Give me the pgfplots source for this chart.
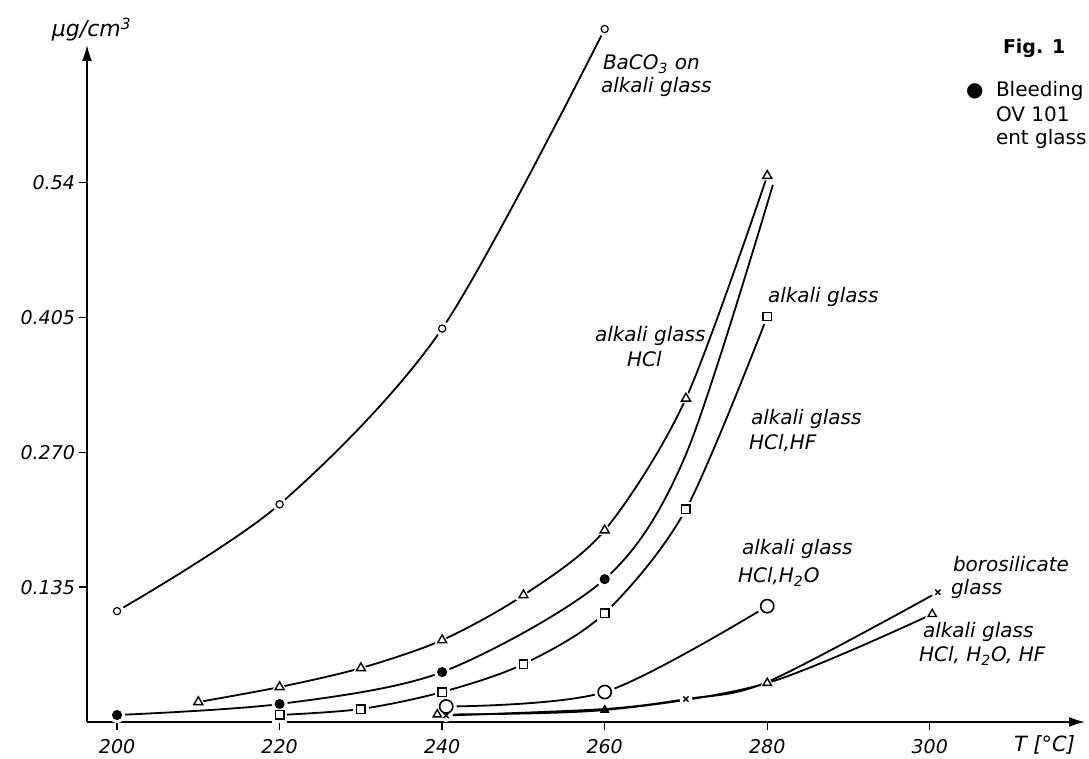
\documentclass[border=0pt]{standalone}
\usepackage{pgfplots}
\usepackage{pgfplotstable}
\pgfplotsset{compat=1.18}
\usetikzlibrary{arrows.meta}
\usepackage{fontspec}
\setmainfont{DejaVu Sans}

% BaCO3 on alkali glass
\pgfplotstableread{
x y
200 0.111
220 0.218
240 0.394
260 0.694
}\baco
% alkali glass HCl (triangles)
\pgfplotstableread{
x y
210 0.020
220 0.035
230 0.054
240 0.082
250 0.127
260 0.192
270 0.324
280 0.547
}\hcl
% bleeding (filled circles) curve
\pgfplotstableread{
x y
200 0.007
220 0.018
240 0.050
260 0.143
270 0.268
280.7 0.538
}\bleedline
\pgfplotstableread{
x y
200 0.007
220 0.018
240 0.050
260 0.143
}\bleedmarks
% alkali glass (squares)
\pgfplotstableread{
x y
220 0.007
230 0.013
240 0.030
250 0.058
260 0.109
270 0.213
280 0.406
}\alk
% alkali glass HCl,H2O (large circles)
\pgfplotstableread{
x y
240.5 0.0155
260 0.030
280 0.116
}\hclh
% borosilicate glass (x)
\pgfplotstableread{
x y
240.5 0.0065
260 0.013
270 0.023
280 0.040
301 0.130
}\boro
% alkali glass HCl,H2O,HF (triangles)
\pgfplotstableread{
x y
239.4 0.0075
260 0.012
280 0.039
300.3 0.108
}\hf

\begin{document}
\begin{tikzpicture}
\useasboundingbox (-43.5pt,-18.5pt) rectangle (501pt,361pt);
\begin{axis}[
  scale only axis, width=499pt, height=338.5pt,
  xmin=196.3, xmax=319.1, ymin=0, ymax=0.678,
  axis x line=bottom, axis y line=left,
  axis line style={line width=0.8pt, -{Latex[length=8pt,width=5pt]}},
  tick align=outside, major tick length=4pt,
  tick style={line width=0.7pt, black},
  xtick={200,220,240,260,280,300},
  xticklabels={200,220,240,260,280,300},
  ytick={0.135,0.27,0.405,0.54},
  yticklabels={0.135,0.270,0.405,0.54},
  ticklabel style={font=\fontsize{9.5}{11}\selectfont\itshape},
  yticklabel style={xshift=1.5pt},
  xticklabel style={yshift=-1pt},
  clip=false,
  every axis plot/.append style={black},
  curve/.style={smooth, tension=0.5, line width=0.9pt},
]
% curves
\addplot[curve] table[x=x,y=y] {\baco};
\addplot[curve] table[x=x,y=y] {\hcl};
\addplot[curve] table[x=x,y=y] {\bleedline};
\addplot[curve] table[x=x,y=y] {\alk};
\addplot[curve] table[x=x,y=y] {\hclh};
\addplot[curve] table[x=x,y=y] {\boro};
\addplot[curve] table[x=x,y=y] {\hf};
% white halos (gaps in the lines around the marks)
\addplot[only marks, mark=*, mark size=3.4pt, white, mark options={draw=white, fill=white}] table[x=x,y=y] {\baco};
\addplot[only marks, mark=triangle*, mark size=4.2pt, white, mark options={draw=white, fill=white}] table[x=x,y=y] {\hcl};
\addplot[only marks, mark=*, mark size=3.8pt, white, mark options={draw=white, fill=white}] table[x=x,y=y] {\bleedmarks};
\addplot[only marks, mark=square*, mark size=3.6pt, white, mark options={draw=white, fill=white}] table[x=x,y=y] {\alk};
\addplot[only marks, mark=*, mark size=5pt, white, mark options={draw=white, fill=white}] table[x=x,y=y] {\hclh};
\addplot[only marks, mark=*, mark size=3pt, white, mark options={draw=white, fill=white}] coordinates {(240.5,0.0065) (270,0.023) (301,0.130)};
\addplot[only marks, mark=triangle*, mark size=3.8pt, white, mark options={draw=white, fill=white}] coordinates {(239.4,0.0075) (280,0.039) (300.3,0.108)};
% marks
\addplot[only marks, mark=o, mark size=1.8pt, mark options={line width=0.6pt, fill=white}] table[x=x,y=y] {\baco};
\addplot[only marks, mark=triangle, mark size=2.6pt, mark options={line width=0.7pt, fill=white}] table[x=x,y=y] {\hcl};
\addplot[only marks, mark=*, mark size=2.3pt, mark options={fill=black}] table[x=x,y=y] {\bleedmarks};
\addplot[only marks, mark=square, mark size=2.1pt, mark options={line width=0.7pt, fill=white}] table[x=x,y=y] {\alk};
\addplot[only marks, mark=o, mark size=3.3pt, mark options={line width=0.8pt, fill=white}] table[x=x,y=y] {\hclh};
\addplot[only marks, mark=x, mark size=1.8pt, mark options={line width=0.7pt}] coordinates {(240.5,0.0065) (270,0.023) (301,0.130)};
\addplot[only marks, mark=triangle, mark size=2.4pt, mark options={line width=0.7pt, fill=white}] coordinates {(239.4,0.0075) (280,0.039) (300.3,0.108)};
\addplot[only marks, mark=triangle*, mark size=2.4pt, mark options={fill=black}] coordinates {(260,0.012)};
\end{axis}

\begin{scope}[x=0.5pt, y=-0.5pt, shift={(-43.5pt,361pt)}, every node/.style={inner sep=0pt, outer sep=0pt, anchor=base west}]
\def\lf{\fontsize{10}{12}\selectfont\itshape}
\node at (52,37) {\fontsize{11}{13}\selectfont\itshape µg/cm\textsuperscript{3}};
\node at (603,70) {\lf BaCO\textsubscript{3} on};
\node at (601,93) {\lf alkali glass};
\node at (768,303) {\lf alkali glass};
\node at (595,342) {\lf alkali glass};
\node at (627,367) {\lf HCl};
\node at (751,425) {\lf alkali glass};
\node at (749,450) {\lf HCl,HF};
\node at (742,555) {\lf alkali glass};
\node at (738,583) {\lf HCl,H\textsubscript{2}O};
\node at (953,572) {\lf borosilicate};
\node at (951,595) {\lf glass};
\node at (923,638) {\lf alkali glass};
\node at (919,662) {\lf HCl, H\textsubscript{2}O, HF};
\node at (1014,752) {\fontsize{10.5}{12}\selectfont\itshape T [°C]};
\node at (1003,54) {\fontsize{9.5}{12}\selectfont\bfseries Fig. 1};
\node at (966,97) {\fontsize{10}{12}\selectfont ●};
\node at (996,97) {\fontsize{10}{12}\selectfont Bleeding};
\node at (996,122) {\fontsize{10}{12}\selectfont OV 101};
\node at (996,145) {\fontsize{10}{12}\selectfont ent glass};
\end{scope}
\end{tikzpicture}
\end{document}
